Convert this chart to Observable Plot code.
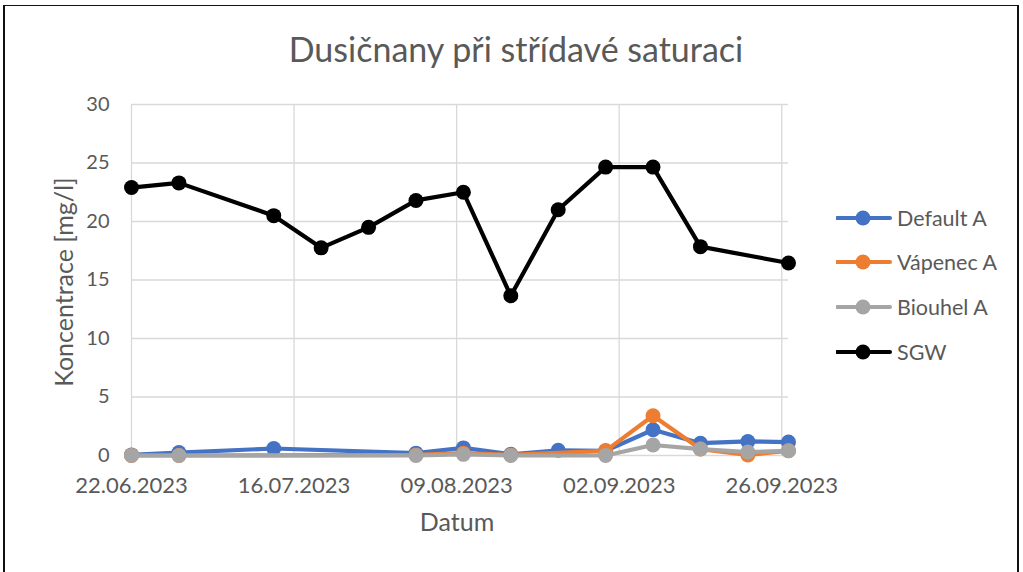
<!DOCTYPE html>
<html>
<head>
<meta charset="utf-8">
<script src="https://cdn.jsdelivr.net/npm/d3@7"></script>
<script src="https://cdn.jsdelivr.net/npm/@observablehq/plot@0.6"></script>
<style>
  html, body { margin:0; padding:0; background:#fff; }
  #wrap { position:relative; width:1023px; height:572px; overflow:hidden; background:#fff; font-family: Lato, "Open Sans", sans-serif; color:#595959; }
  #frame { position:absolute; left:3px; top:5px; width:1016px; height:620px; border:2px solid #111; border-top-width:1.5px; box-sizing:border-box; }
  #title { position:absolute; left:0; width:1032px; top:29px; text-align:center; font-size:34px; line-height:40px; }
  #plot { position:absolute; left:0; top:0; }
  #xlabel { position:absolute; left:357px; width:200px; top:506px; text-align:center; font-size:25px; line-height:30px; }
  #ylabel { position:absolute; left:63px; top:282px; transform:translate(-50%,-50%) rotate(-90deg); white-space:nowrap; font-size:25px; line-height:30px; }
  #legend { position:absolute; left:836px; top:0; }
  .row { position:absolute; left:0; height:24px; display:flex; align-items:center; white-space:nowrap; font-size:21.5px; }
  .row svg { display:block; margin-right:5px; }
</style>
</head>
<body>
<div id="wrap">
  <div id="frame"></div>
  <div id="title">Dusičnany při střídavé saturaci</div>
  <div id="plot"></div>
  <div id="xlabel">Datum</div>
  <div id="ylabel">Koncentrace [mg/l]</div>
  <div id="legend"></div>
</div>
<script>
// ---- data ----
const dates = ["2023-06-22","2023-06-29","2023-07-13","2023-07-20","2023-07-27","2023-08-03","2023-08-10","2023-08-17","2023-08-24","2023-08-31","2023-09-07","2023-09-14","2023-09-21","2023-09-27"];
const seriesNames = ["Default A", "Vápenec A", "Biouhel A", "SGW"];
const seriesColors = ["#4472C4", "#ED7D31", "#A5A5A5", "#000000"];
const defaultA = [0.05, 0.25, 0.6, null, null, 0.2, 0.65, 0.1, 0.45, 0.4, 2.2, 1.05, 1.2, 1.15];
const vapenecA = [0, 0, null, null, null, 0.05, 0.2, 0.05, null, 0.4, 3.4, 0.55, 0.05, 0.4];
const biouhelA = [0, 0, null, null, null, 0, 0.1, 0, null, 0, 0.9, 0.55, 0.3, 0.4];
const sgw = [22.9, 23.3, 20.5, 17.75, 19.5, 21.8, 22.5, 13.65, 21.0, 24.65, 24.65, 17.85, null, 16.45];
const xTickLabels = ["2023-06-22","2023-07-16","2023-08-09","2023-09-02","2023-09-26"];
const yTicks = [0, 5, 10, 15, 20, 25, 30];
const xDomain = ["2023-06-22","2023-09-27"];

// ---- build ----
const parse = d3.utcParse("%Y-%m-%d");
const allValues = [defaultA, vapenecA, biouhelA, sgw];
const table = [];
allValues.forEach((vals, si) => {
  vals.forEach((v, i) => {
    if (v !== null) table.push({series: seriesNames[si], date: parse(dates[i]), value: v});
  });
});
const xTicks = xTickLabels.map(parse);
const fmt = d3.utcFormat("%d.%m.%Y");

const marks = [
  Plot.gridX(xTicks, {stroke:"#d9d9d9", strokeOpacity:1, strokeWidth:1.3}),
  Plot.gridY(yTicks, {stroke:"#d9d9d9", strokeOpacity:1, strokeWidth:1.3}),
];
seriesNames.forEach((name, si) => {
  const d = table.filter(r => r.series === name);
  marks.push(Plot.line(d, {x:"date", y:"value", stroke: seriesColors[si], strokeWidth:4.2, strokeLinejoin:"round", curve:"linear"}));
  marks.push(Plot.dot(d, {x:"date", y:"value", fill: seriesColors[si], r:7.5, stroke:"none"}));
});
marks.push(Plot.axisX(xTicks, {tickSize:0, tickPadding:22, tickFormat: fmt, fontSize:22, fill:"#595959", label:null}));
marks.push(Plot.axisY(yTicks, {tickSize:0, tickPadding:22, fontSize:20, fill:"#595959", label:null}));

const chart = Plot.plot({
  width: 1023, height: 572,
  marginLeft: 131, marginRight: 235, marginTop: 104, marginBottom: 117,
  style: {fontFamily: "Lato, 'Open Sans', sans-serif", background: "transparent", color:"#595959"},
  x: {type:"utc", domain: xDomain.map(parse)},
  y: {domain:[0, 30]},
  marks
});
document.getElementById("plot").appendChild(chart);

// legend
const legend = document.getElementById("legend");
const rowY = [218, 262, 307, 352];
seriesNames.forEach((name, si) => {
  const row = document.createElement("div");
  row.className = "row";
  row.style.top = (rowY[si] - 12) + "px";
  const c = seriesColors[si];
  row.innerHTML = `<svg width="56" height="18"><line x1="1" y1="9" x2="54" y2="9" stroke="${c}" stroke-width="4" stroke-linecap="round"/><circle cx="27" cy="9" r="7.5" fill="${c}"/></svg><span>${name}</span>`;
  legend.appendChild(row);
});
</script>
</body>
</html>
